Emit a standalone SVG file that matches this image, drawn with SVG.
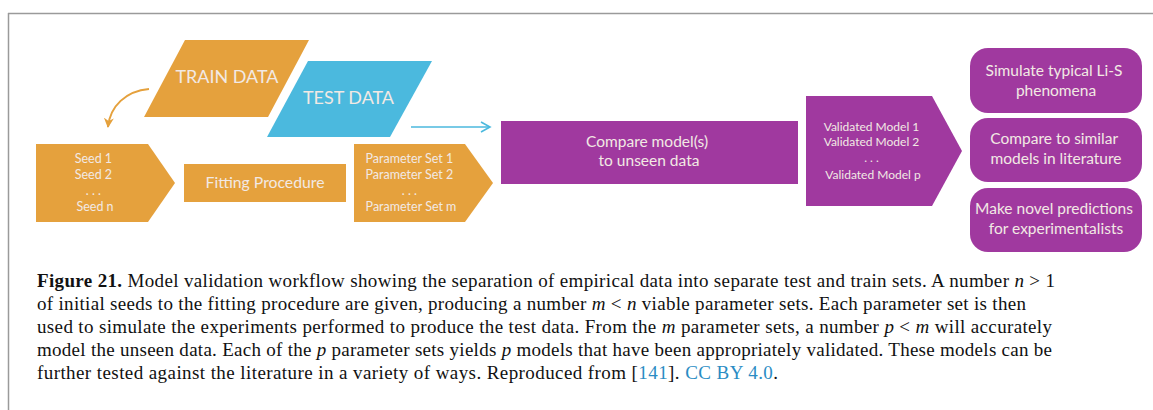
<svg xmlns="http://www.w3.org/2000/svg" width="1153" height="410" viewBox="0 0 1153 410">
<style>
.orange{fill:#E5A13D}
.blue{fill:#4BB9DE}
.purple{fill:#A0399F}
.lbl{font-family:Lato,"Open Sans","Noto Sans",sans-serif;fill:#F2E9E4;text-anchor:middle}
.cap{font-family:"Liberation Serif","Times New Roman",serif;font-size:19px;fill:#111111}
.link{fill:#2A8CC4}
</style>
<defs>
<marker id="ahO" markerWidth="14" markerHeight="10" refX="9" refY="5" orient="auto" markerUnits="userSpaceOnUse">
<path d="M0,0 L10,5 L0,10 L3,5 Z" fill="#E5A13D"/>
</marker>
<marker id="ahB" markerWidth="14" markerHeight="12" refX="10" refY="6" orient="auto" markerUnits="userSpaceOnUse">
<path d="M1,1 L10,6 L1,11" fill="none" stroke="#4BB9DE" stroke-width="1.6"/>
</marker>
</defs>
<rect width="1153" height="410" fill="#ffffff"/>
<g id="frame" stroke="#9a9a9a" stroke-width="1.5" fill="none">
<line x1="8" y1="13.5" x2="1153" y2="13.5"/>
<line x1="8.5" y1="13" x2="8.5" y2="410"/>
</g>
<g id="connectors">
<path d="M149,89 C126,91 110,106 108,127" fill="none" stroke="#E5A13D" stroke-width="2" marker-end="url(#ahO)"/>
<line x1="411" y1="127" x2="490" y2="127" stroke="#4BB9DE" stroke-width="1.6" marker-end="url(#ahB)"/>
</g>
<g id="train">
<polygon class="orange" points="185,40 309,40 268,117 144,117"/>
<text class="lbl" x="227" y="83" font-size="17.5" textLength="103" lengthAdjust="spacingAndGlyphs">TRAIN DATA</text>
</g>
<g id="test">
<polygon class="blue" points="308,61 432,61 390,137 267,137"/>
<text class="lbl" x="348.5" y="104" font-size="17.5" textLength="91" lengthAdjust="spacingAndGlyphs">TEST DATA</text>
</g>
<g id="seeds">
<polygon class="orange" points="36,144 148,144 175,183 148,222 36,222"/>
<text class="lbl" font-size="12.5">
<tspan x="95" y="163">Seed 1</tspan>
<tspan x="95" y="179">Seed 2</tspan>
<tspan x="95" y="195">. . .</tspan>
<tspan x="95" y="211">Seed n</tspan>
</text>
</g>
<g id="fitting">
<rect class="orange" x="184" y="164" width="162" height="38"/>
<text class="lbl" x="265" y="188" font-size="15" textLength="119" lengthAdjust="spacingAndGlyphs">Fitting Procedure</text>
</g>
<g id="params">
<polygon class="orange" points="354,144 465,144 493,183 465,222 354,222"/>
<text class="lbl" font-size="12.5">
<tspan x="411" y="163">Parameter Set 1</tspan>
<tspan x="411" y="179">Parameter Set 2</tspan>
<tspan x="411" y="195">. . .</tspan>
<tspan x="411" y="211">Parameter Set m</tspan>
</text>
</g>
<g id="compare">
<rect class="purple" x="501" y="121" width="297" height="63"/>
<text class="lbl" font-size="15.5">
<tspan x="649" y="147">Compare model(s)</tspan>
<tspan x="649" y="166">to unseen data</tspan>
</text>
</g>
<g id="validated">
<polygon class="purple" points="806,96 932,96 962,151 932,206 806,206"/>
<text class="lbl" font-size="12">
<tspan x="873" y="131">Validated Model 1</tspan>
<tspan x="873" y="146">Validated Model 2</tspan>
<tspan x="873" y="162">. . .</tspan>
<tspan x="873" y="179">Validated Model p</tspan>
</text>
</g>
<g id="simulate">
<rect class="purple" x="970" y="48" width="172" height="65" rx="18"/>
<text class="lbl" font-size="15.5">
<tspan x="1056" y="76">Simulate typical Li-S</tspan>
<tspan x="1056" y="96">phenomena</tspan>
</text>
</g>
<g id="compare-lit">
<rect class="purple" x="970" y="118" width="172" height="64" rx="18"/>
<text class="lbl" font-size="15.5">
<tspan x="1056" y="144">Compare to similar</tspan>
<tspan x="1056" y="164">models in literature</tspan>
</text>
</g>
<g id="predict">
<rect class="purple" x="970" y="188" width="172" height="64" rx="18"/>
<text class="lbl" font-size="15.5">
<tspan x="1056" y="214">Make novel predictions</tspan>
<tspan x="1056" y="234">for experimentalists</tspan>
</text>
</g>
<g id="caption">
<text class="cap" x="37" y="287" textLength="1018" lengthAdjust="spacing"><tspan font-weight="bold">Figure 21.</tspan> Model validation workflow showing the separation of empirical data into separate test and train sets. A number <tspan font-style="italic">n</tspan> &gt; 1</text>
<text class="cap" x="37" y="310" textLength="989" lengthAdjust="spacing">of initial seeds to the fitting procedure are given, producing a number <tspan font-style="italic">m</tspan> &lt; <tspan font-style="italic">n</tspan> viable parameter sets. Each parameter set is then</text>
<text class="cap" x="37" y="333" textLength="1015" lengthAdjust="spacing">used to simulate the experiments performed to produce the test data. From the <tspan font-style="italic">m</tspan> parameter sets, a number <tspan font-style="italic">p</tspan> &lt; <tspan font-style="italic">m</tspan> will accurately</text>
<text class="cap" x="37" y="356" textLength="1015" lengthAdjust="spacing">model the unseen data. Each of the <tspan font-style="italic">p</tspan> parameter sets yields <tspan font-style="italic">p</tspan> models that have been appropriately validated. These models can be</text>
<text class="cap" x="37" y="379" textLength="741" lengthAdjust="spacing">further tested against the literature in a variety of ways. Reproduced from [<tspan class="link">141</tspan>]. <tspan class="link">CC BY 4.0</tspan>.</text>
</g>
</svg>
